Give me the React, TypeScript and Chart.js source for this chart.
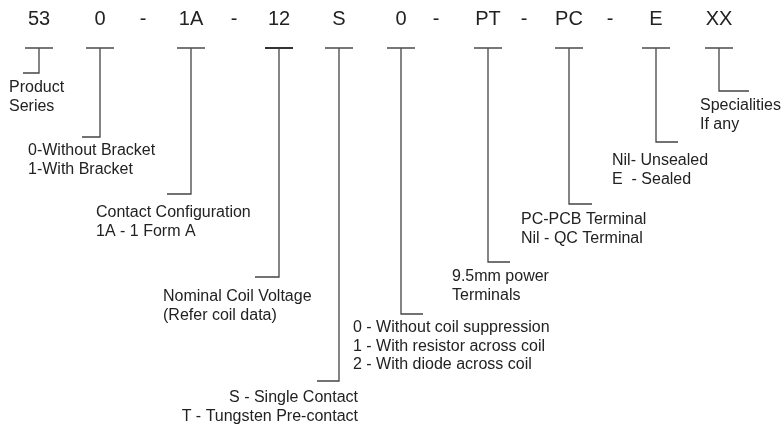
import React, { useEffect, useRef } from "react";
import { Chart, registerables } from "chart.js";

Chart.register(...registerables);

// Part-number code segments (the "categories")
const codeSegments = ["53", "0", "1A", "12", "S", "0", "PT", "PC", "E", "XX"];
// position of each segment along the code line
const segmentPos = [39, 100, 191, 279, 339, 401, 488, 569, 656, 719];
// how deep each leader line drops
const leaderDepth = [73, 137, 194, 277, 381, 314, 262, 204, 142, 91];
// foot of each leader: negative = to the left, positive = to the right
const leaderFoot = [-16, -18, -24, -24, -22, 22, 22, 23, 22, 30];
// dashes between groups
const dashPos = [143, 234, 436, 524, 610];

// explanations
const descLines: string[][] = [
  ["Product", "Series"],
  ["0-Without Bracket", "1-With Bracket"],
  ["Contact Configuration", "1A - 1 Form A"],
  ["Nominal Coil Voltage", "(Refer coil data)"],
  ["S - Single Contact", "T - Tungsten Pre-contact"],
  ["0 - Without coil suppression", "1 - With resistor across coil", "2 - With diode across coil"],
  ["9.5mm power", "Terminals"],
  ["PC-PCB Terminal", "Nil - QC Terminal"],
  ["Nil- Unsealed", "E  - Sealed"],
  ["Specialities", "If any"],
];
const descAnchorX = [9, 28, 96, 163, 358, 353, 452, 521, 612, 700];
const descAnchorY = [88, 151, 213, 297, 398, 328, 277, 220, 161, 106];
const descAlign: ("left" | "right")[] = ["left", "left", "left", "left", "right", "left", "left", "left", "left", "left"];

const CODE_Y = 19;
const BAR_Y = 48;
const BAR_HALF = 14;
const LINE_GAP = 18.5;

export default function App() {
  const ref = useRef<HTMLCanvasElement | null>(null);

  useEffect(() => {
    document.body.style.margin = "0";
    const canvas = ref.current;
    if (!canvas) return;

    const datasets: any[] = [];
    codeSegments.forEach((_, i) => {
      const cx = segmentPos[i];
      datasets.push({
        data: [
          { x: cx - BAR_HALF, y: BAR_Y },
          { x: cx + BAR_HALF, y: BAR_Y },
        ],
        borderColor: i === 3 ? "#333" : "#555",
        borderWidth: i === 3 ? 2 : 1.6,
        showLine: true,
        pointRadius: 0,
      });
      datasets.push({
        data: [
          { x: cx, y: BAR_Y },
          { x: cx, y: leaderDepth[i] },
          { x: cx + leaderFoot[i], y: leaderDepth[i] },
        ],
        borderColor: "#444",
        borderWidth: 1.3,
        showLine: true,
        pointRadius: 0,
        tension: 0,
      });
    });

    const textPlugin = {
      id: "codeText",
      afterDatasetsDraw(chart: any) {
        const ctx = chart.ctx;
        const xs = chart.scales.x;
        const ys = chart.scales.y;
        ctx.save();
        ctx.fillStyle = "#222";
        ctx.textBaseline = "middle";
        ctx.font = '20px "Liberation Sans", Arial, sans-serif';
        ctx.textAlign = "center";
        codeSegments.forEach((s, i) => {
          ctx.fillText(s, xs.getPixelForValue(segmentPos[i]), ys.getPixelForValue(CODE_Y));
        });
        dashPos.forEach((p) => {
          ctx.fillText("-", xs.getPixelForValue(p), ys.getPixelForValue(CODE_Y));
        });
        ctx.font = '16px "Liberation Sans", Arial, sans-serif';
        descLines.forEach((lines, i) => {
          ctx.textAlign = descAlign[i];
          lines.forEach((t, j) => {
            ctx.fillText(
              t,
              xs.getPixelForValue(descAnchorX[i]),
              ys.getPixelForValue(descAnchorY[i] + j * LINE_GAP)
            );
          });
        });
        ctx.restore();
      },
    };

    const chart = new Chart(canvas, {
      type: "scatter",
      data: { datasets },
      options: {
        animation: false,
        responsive: false,
        maintainAspectRatio: false,
        layout: { padding: 0 },
        plugins: { legend: { display: false }, tooltip: { enabled: false } },
        scales: {
          x: { type: "linear", min: 0, max: 781, display: false },
          y: { type: "linear", min: 0, max: 428, reverse: true, display: false },
        },
      },
      plugins: [textPlugin],
    });
    return () => chart.destroy();
  }, []);

  return (
    <div style={{ width: 781, height: 428, background: "#fff" }}>
      <canvas ref={ref} width={781} height={428} style={{ display: "block" }} />
    </div>
  );
}
